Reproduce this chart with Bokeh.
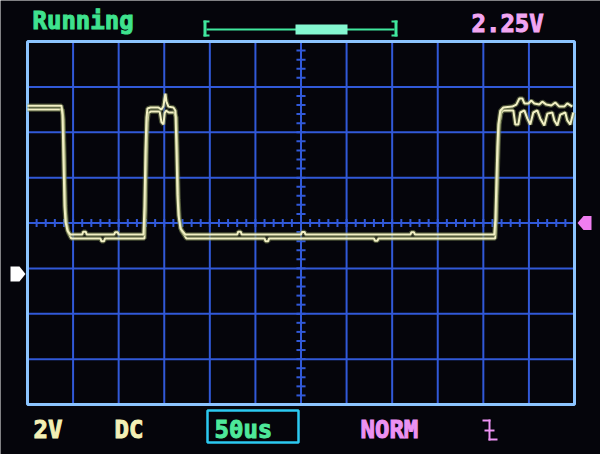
from bokeh.plotting import figure
from bokeh.models import Range1d, Label, BoxAnnotation, PolyAnnotation
from bokeh.embed import file_html
from bokeh.resources import INLINE

# scope settings: 50 us/div, 2 V/div, 12 x 8 divisions
time_ticks = [50, 100, 150, 200, 250, 300, 350, 400, 450, 500, 550]
volt_ticks = [-3.75, -1.75, 0.25, 2.25, 4.25, 6.25, 8.25]
t_start, t_end = 0, 600
v_start, v_end = -5.75, 10.25
ground_level = 0.0
trigger_level = 2.25

# two overlapping sweeps (us, V)
time_a = [0, 37.3, 38.4, 39.5, 40.6, 41.7, 43.9, 47.1, 60, 61, 64, 65, 95, 96, 99, 100,
          127.2, 128.3, 129.4, 130.5, 131.6, 134.9, 143.6, 146.9, 149.1, 150.2, 151.3,
          152.4, 154.6, 160.1, 162.3, 163.4, 164.5, 165.6, 167.8, 173.2, 230, 231, 234, 235,
          300, 301, 304, 305, 420, 421, 424, 425, 512, 513.2, 514.3, 515.4, 516.5, 518.6,
          521.9, 531.8, 536.2, 539.5, 542.8, 545.0, 549.4, 552.6, 555.9, 561.4, 564.7,
          569.1, 574.6, 578.9, 583.3, 588.8, 592.1, 597.6]
volt_a = [7.42, 7.42, 7.0, 5.0, 3.0, 2.3, 1.9, 1.74, 1.74, 1.86, 1.86, 1.74, 1.74, 1.84, 1.84, 1.74,
          1.74, 3.0, 5.4, 6.9, 7.3, 7.34, 7.34, 7.25, 7.4, 7.7, 7.95,
          7.6, 7.38, 7.34, 7.2, 5.5, 3.5, 2.6, 2.0, 1.74, 1.74, 1.86, 1.86, 1.74,
          1.74, 1.85, 1.85, 1.74, 1.74, 1.84, 1.84, 1.74, 1.74, 2.4, 4.0, 5.6, 6.6, 7.2,
          7.34, 7.38, 7.47, 7.74, 7.74, 7.52, 7.52, 7.65, 7.52, 7.47, 7.60,
          7.47, 7.43, 7.56, 7.38, 7.38, 7.52, 7.38]

time_b = [0, 38.4, 39.5, 40.6, 41.7, 42.8, 45.0, 48.0, 80, 81, 84, 85, 128.3, 129.4,
          130.5, 131.6, 132.7, 135.0, 145.0, 146.9, 149.1, 150.5, 152.0, 155.0, 161.0,
          163.4, 164.5, 165.6, 166.7, 168.9, 174.3, 260, 261, 264, 265, 380, 381, 384, 385,
          513.0, 514.3, 515.4, 516.5, 517.6, 519.7, 521.9, 532.9, 535.1, 538.4, 540.6,
          545.0, 548.3, 551.5, 554.8, 559.2, 562.5, 566.9, 570.2, 575.7, 577.9, 581.2,
          584.4, 589.9, 592.1, 595.4, 598.7]
volt_b = [7.25, 7.25, 6.8, 5.0, 3.0, 2.3, 1.8, 1.57, 1.57, 1.45, 1.45, 1.57, 1.57, 2.8,
          5.2, 6.7, 7.1, 7.16, 7.16, 6.7, 6.6, 7.1, 7.2, 7.12, 7.12,
          6.9, 5.2, 3.3, 2.4, 1.9, 1.57, 1.57, 1.45, 1.45, 1.57, 1.57, 1.47, 1.47, 1.57,
          1.57, 2.4, 4.0, 5.6, 6.6, 7.1, 7.21, 7.21, 6.59, 6.59, 7.12,
          7.21, 6.85, 6.59, 7.12, 7.21, 6.85, 6.55, 7.07, 7.12, 6.77, 6.55,
          7.03, 7.12, 6.77, 6.59, 7.12]

bg = "#05050b"
grid_color = "#3159d8"

# the screen area sits at pixels x 27..574, y 41..404 of the 600 x 454 canvas
scr_x0, scr_x1, scr_y0, scr_y1 = 27, 574, 41, 404


def sx(X):
    return t_start + (X - scr_x0) * (t_end - t_start) / (scr_x1 - scr_x0)


def sy(Y):
    return v_end - (Y - scr_y0) * (v_end - v_start) / (scr_y1 - scr_y0)


p = figure(width=600, height=454, output_backend="svg", toolbar_location=None,
           x_range=Range1d(sx(0), sx(600)), y_range=Range1d(sy(454), sy(0)),
           x_axis_location=None, y_axis_location=None,
           min_border=0, min_border_left=0, min_border_right=0,
           min_border_top=0, min_border_bottom=0)
p.background_fill_color = bg
p.border_fill_color = bg
p.outline_line_color = None
p.grid.visible = False

# graticule
gx0 = time_ticks + [t_start] * len(volt_ticks)
gx1 = time_ticks + [t_end] * len(volt_ticks)
gy0 = [v_start] * len(time_ticks) + volt_ticks
gy1 = [v_end] * len(time_ticks) + volt_ticks
p.segment(gx0, gy0, gx1, gy1, line_color=grid_color, line_width=2)

# small ticks on the centre cross (5 per division)
t_mid = (t_start + t_end) / 2
v_mid = (v_start + v_end) / 2
hx0, hx1, hy0, hy1 = [], [], [], []
t = t_start + 10
while t < t_end:
    hx0.append(t); hx1.append(t)
    hy0.append(v_mid - 0.18); hy1.append(v_mid + 0.18)
    t += 10
v = v_start + 0.4
while v < v_end - 0.01:
    hx0.append(t_mid - 5); hx1.append(t_mid + 5)
    hy0.append(v); hy1.append(v)
    v += 0.4
p.segment(hx0, hy0, hx1, hy1, line_color=grid_color, line_width=2)

# screen border
p.quad(left=[t_start], right=[t_end], bottom=[v_start], top=[v_end],
       fill_alpha=0, line_color="#8cc4ff", line_width=3)

# traces
for tt, vv in [(time_b, volt_b), (time_a, volt_a)]:
    p.line(tt, vv, line_color="#7d8a55", line_width=4.5, line_alpha=0.55)
    p.line(tt, vv, line_color="#f2f0c4", line_width=2)


def text(s, X, Y, color, size="24px"):
    p.add_layout(Label(x=sx(X), y=sy(Y), text=s, text_color=color, text_font="DejaVu Sans Mono",
                       text_font_style="bold", text_font_size=size, text_baseline="alphabetic",
                       text_outline_color=color))


def box(X0, Y0, X1, Y1, fill=None, line=None, lw=0):
    p.add_layout(BoxAnnotation(left=sx(X0), right=sx(X1), top=sy(Y0), bottom=sy(Y1),
                               fill_color=fill, fill_alpha=1 if fill else 0,
                               line_color=line, line_width=lw, line_alpha=1 if line else 0))


text("Running", 32, 20, "#3fe28e")
text("2.25V", 471, 23, "#f2a6f2")
text("2V", 33, 429, "#f3f0b5")
text("DC", 114, 429, "#f3f0b5")
text("50us", 214, 429, "#4ee89a")
text("NORM", 360, 429, "#ec92f2")

# position bar at the top
bar = "#40e89e"
box(203, 20, 206, 36, fill=bar)
box(203, 20, 209, 22, fill=bar)
box(203, 34, 209, 36, fill=bar)
box(394, 20, 397, 36, fill=bar)
box(391, 20, 397, 22, fill=bar)
box(391, 34, 397, 36, fill=bar)
box(206, 28, 394, 30, fill=bar)
box(295, 24, 347, 34, fill="#84f7d0")

# timebase box
box(207, 410, 298, 442, line="#2ccaf2", lw=2.5)

# falling edge symbol
box(482, 419, 490, 421, fill="#ec92f2")
box(488, 419, 490, 440, fill="#ec92f2")
box(488, 438, 497, 440, fill="#ec92f2")
box(484, 429, 494, 431, fill="#ec92f2")

# ground and trigger markers
g = ground_level
p.add_layout(PolyAnnotation(xs=[sx(10), sx(19), sx(25), sx(19), sx(10)],
                            ys=[g + 0.33, g + 0.33, g, g - 0.33, g - 0.33],
                            fill_color="#ffffff", fill_alpha=1, line_alpha=0))
tr = trigger_level
p.add_layout(PolyAnnotation(xs=[sx(577), sx(583), sx(591), sx(591), sx(583)],
                            ys=[tr, tr + 0.31, tr + 0.31, tr - 0.31, tr - 0.31],
                            fill_color="#f07ef0", fill_alpha=1, line_alpha=0))

open("out.html", "w").write(file_html(p, INLINE))
